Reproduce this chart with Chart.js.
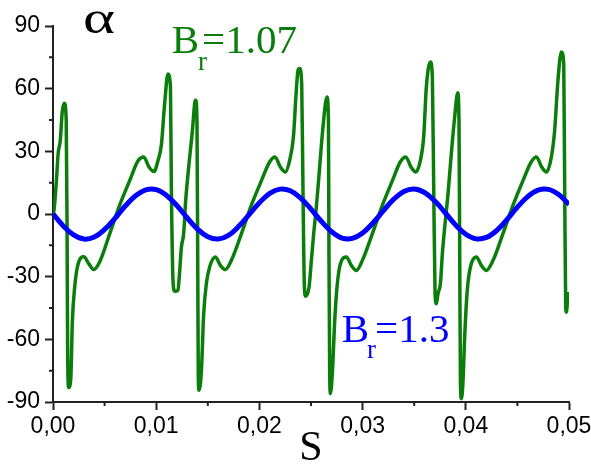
<!DOCTYPE html>
<html>
<head>
<meta charset="utf-8">
<script src="https://cdn.jsdelivr.net/npm/chart.js@4"></script>
<style>
  html, body { margin: 0; padding: 0; background: #fff; }
</style>
</head>
<body>
<canvas id="alphaChart" width="591" height="470"></canvas>
<script>
// alpha(S) for Br = 1.07 (green) and Br = 1.3 (blue)
var greenS = [
    0.0000, 0.0001, 0.00033, 0.0005, 0.0007, 0.0009, 0.0011, 0.00128, 0.00136, 0.00142,
    0.00152, 0.00172, 0.00188, 0.0021, 0.00243, 0.00298, 0.00349, 0.00394, 0.00452, 0.0055,
    0.00646, 0.00743, 0.00824, 0.00879, 0.0093, 0.00979, 0.01018, 0.0105, 0.01082, 0.01114,
    0.01138, 0.01147, 0.01163, 0.01179, 0.01211, 0.01228, 0.01244, 0.01266, 0.01286, 0.01318,
    0.01351, 0.01373, 0.01383, 0.01395, 0.01402, 0.01408, 0.01415, 0.01438, 0.0146, 0.01486,
    0.01518, 0.01573, 0.01622, 0.0167, 0.01728, 0.01826, 0.01922, 0.0202, 0.021, 0.02151,
    0.02203, 0.02252, 0.02293, 0.0233, 0.02356, 0.02375, 0.0239, 0.0241, 0.02422, 0.02436,
    0.02449, 0.02481, 0.02504, 0.02526, 0.02552, 0.02584, 0.02616, 0.02655, 0.02669, 0.02674,
    0.02681, 0.02688, 0.02707, 0.0273, 0.02752, 0.02785, 0.02843, 0.02891, 0.0294, 0.02998,
    0.03095, 0.03192, 0.03289, 0.03366, 0.03418, 0.03469, 0.03515, 0.0356, 0.03592, 0.03618,
    0.03657, 0.03676, 0.03689, 0.03702, 0.03715, 0.03731, 0.03754, 0.03773, 0.03796, 0.03828,
    0.0386, 0.03892, 0.03922, 0.03934, 0.03941, 0.03948, 0.03957, 0.03973, 0.03989, 0.04012,
    0.04038, 0.04103, 0.04151, 0.042, 0.04264, 0.0436, 0.04458, 0.04554, 0.04635, 0.04684,
    0.04735, 0.04781, 0.04829, 0.04861, 0.04893, 0.04926, 0.04949, 0.04958, 0.04968, 0.04975,
    0.0499
];
var greenAlpha = [
    0, 2, 16, 29, 35, 49, 53, 45, -3, -67,
    -83, -79, -51, -35, -24, -20.5, -24, -26.6, -23, -9.4,
    4.2, 16, 25.5, 27.3, 22.5, 20.3, 25.7, 33, 53, 67,
    61, 13, -32, -37, -36.5, -27, -16, -9.4, 6.6, 24,
    40, 53, 54.4, 45, -19, -78, -84.4, -75, -48, -33.3,
    -25.4, -20.6, -24.6, -26.6, -22.2, -9.4, 4.2, 16, 25, 27.3,
    22.5, 20.1, 25.7, 37, 58, 69, 69.6, 62, 13, -35,
    -39.4, -35, -22, -9.4, 3.4, 22.5, 41.6, 56, 45, -19,
    -75, -86, -76, -51, -35, -23.8, -20.6, -24.6, -27, -22.2,
    -9.4, 4.2, 16, 25, 27.3, 22.5, 20.1, 25.7, 37, 61,
    72.8, 65.6, 13, -38, -43, -38, -33.3, -19, -6.2, 9.8,
    29, 46.4, 58, 45, -19, -80, -88.4, -80, -59, -38,
    -27, -20.6, -24.6, -27, -22.2, -9.4, 4.2, 16, 25, 27.3,
    22.5, 20.1, 27.3, 40, 64, 77.5, 72, 13, -44.5, -47,
    -37.3
];

var blueS = [
    0.000, 0.001, 0.002, 0.003, 0.004, 0.005, 0.006, 0.007, 0.008, 0.009,
    0.010, 0.011, 0.012, 0.013, 0.014, 0.015, 0.016, 0.017, 0.018, 0.019,
    0.020, 0.021, 0.022, 0.023, 0.024, 0.025, 0.026, 0.027, 0.028, 0.029,
    0.030, 0.031, 0.032, 0.033, 0.034, 0.035, 0.036, 0.037, 0.038, 0.039,
    0.040, 0.041, 0.042, 0.043, 0.044, 0.045, 0.046, 0.047, 0.048, 0.049,
    0.050
];
var blueAlpha = [
    0, -5.7, -10.0, -12.0, -11.0, -7.4, -2.1, 3.8, 8.7, 11.6,
    11.7, 8.9, 4.1, -1.8, -7.2, -10.9, -12.0, -10.2, -5.9, -0.3,
    5.4, 9.9, 11.9, 11.1, 7.6, 2.3, -3.5, -8.5, -11.5, -11.7,
    -9.1, -4.3, 1.5, 7.0, 10.8, 12.0, 10.3, 6.2, 0.6, -5.2,
    -9.7, -11.9, -11.2, -7.9, -2.6, 3.3, 8.3, 11.4, 11.8, 9.3,
    4.6
];

var xTicks = [0, 0.01, 0.02, 0.03, 0.04, 0.05];
var xMinor = [0.005, 0.015, 0.025, 0.035, 0.045];
var yTicks = [-90, -60, -30, 0, 30, 60, 90];
var yMinor = [-75, -45, -15, 15, 45, 75];

var green = '#0b7d0b';
var blue = '#0000ff';
var axisColor = '#222';

function toPoints(xs, ys) {
    return xs.map(function (x, i) { return { x: x, y: ys[i] }; });
}

// "B" + subscript "r" + "=value"
function drawBr(ctx, value, color, x, y, gap, subDx) {
    ctx.fillStyle = color;
    ctx.font = '41px "Liberation Serif"';
    ctx.fillText('B', x, y);
    var w = ctx.measureText('B').width;
    ctx.fillText('=' + value, x + w + gap, y);
    ctx.font = '27px "Liberation Serif"';
    ctx.fillText('r', x + w + subDx, y + 16.5);
}

var decorations = {
    id: 'decorations',
    afterDraw: function (chart) {
        var ctx = chart.ctx;
        var xs = chart.scales.x, ys = chart.scales.y;
        ctx.save();
        // short minor ticks
        ctx.strokeStyle = axisColor;
        ctx.lineWidth = 2;
        ctx.beginPath();
        xMinor.forEach(function (v) {
            var px = xs.getPixelForValue(v);
            ctx.moveTo(px, ys.bottom);
            ctx.lineTo(px, ys.bottom + 4);
        });
        yMinor.forEach(function (v) {
            var py = ys.getPixelForValue(v);
            ctx.moveTo(xs.left, py);
            ctx.lineTo(xs.left - 4, py);
        });
        ctx.stroke();

        ctx.textBaseline = 'alphabetic';
        ctx.textAlign = 'left';
        // wide alpha symbol
        ctx.save();
        ctx.translate(83, 33);
        ctx.scale(1.3, 1);
        ctx.fillStyle = '#000';
        ctx.font = '47px "Liberation Serif"';
        ctx.fillText('α', 0, 0);
        ctx.restore();

        drawBr(ctx, '1.07', green, 171.7, 53.3, 3, -1);
        drawBr(ctx, '1.3', blue, 341.7, 341.7, 6, -2);
        ctx.restore();
    }
};

var ctxAlpha = document.getElementById('alphaChart').getContext('2d');
var alphaChart = new Chart(ctxAlpha, {
    type: 'line',
    data: {
        datasets: [
            {
                label: 'Br=1.3',
                data: toPoints(blueS, blueAlpha),
                borderColor: blue,
                borderWidth: 5,
                pointRadius: 0,
                tension: 0.4
            },
            {
                label: 'Br=1.07',
                data: toPoints(greenS, greenAlpha),
                borderColor: green,
                borderWidth: 3.5,
                pointRadius: 0,
                cubicInterpolationMode: 'monotone'
            }
        ]
    },
    options: {
        responsive: false,
        animation: false,
        layout: { padding: { left: 0, right: 22, top: 26, bottom: 0 } },
        plugins: {
            legend: { display: false },
            title: { display: false },
            tooltip: { enabled: false }
        },
        scales: {
            x: {
                type: 'linear',
                min: 0,
                max: 0.05,
                afterBuildTicks: function (scale) {
                    scale.ticks = xTicks.map(function (v) { return { value: v }; });
                },
                afterFit: function (scale) {
                    scale.height = 68;
                    scale.paddingLeft = 0;
                    scale.paddingRight = 0;
                },
                ticks: {
                    color: '#000',
                    padding: 3,
                    maxRotation: 0,
                    font: { family: 'Liberation Sans', size: 23 },
                    callback: function (v) { return v.toFixed(2).replace('.', ','); }
                },
                grid: { drawOnChartArea: false, tickLength: 8, tickWidth: 2, tickColor: axisColor },
                border: { color: axisColor, width: 2 },
                title: {
                    display: true,
                    text: 'S',
                    color: '#000',
                    padding: 0,
                    font: { family: 'Liberation Serif', size: 42, lineHeight: 1 }
                }
            },
            y: {
                min: -90,
                max: 90,
                afterBuildTicks: function (scale) {
                    scale.ticks = yTicks.map(function (v) { return { value: v }; });
                },
                afterFit: function (scale) {
                    scale.width = 53;
                    scale.paddingTop = 0;
                    scale.paddingBottom = 0;
                },
                ticks: {
                    color: '#000',
                    padding: 5,
                    font: { family: 'Liberation Sans', size: 23 }
                },
                grid: { drawOnChartArea: false, tickLength: 8, tickWidth: 2, tickColor: axisColor },
                border: { color: axisColor, width: 2 }
            }
        }
    },
    plugins: [decorations]
});
</script>
</body>
</html>
